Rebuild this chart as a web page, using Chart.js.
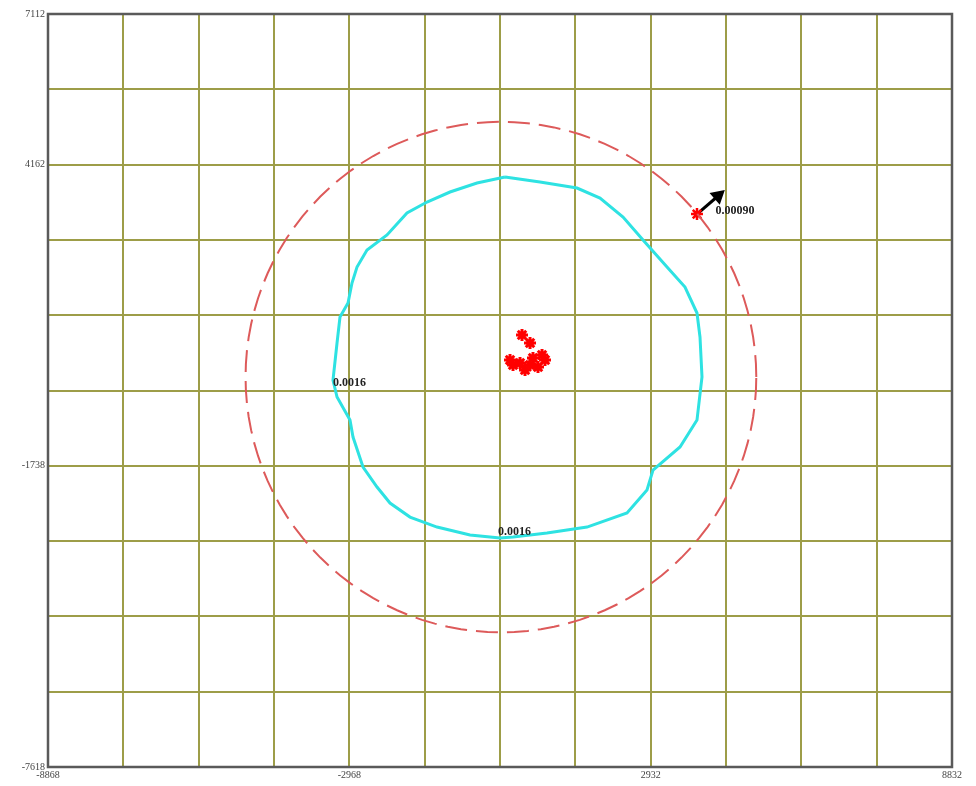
<!DOCTYPE html>
<html>
<head>
<meta charset="utf-8">
<script src="https://cdn.jsdelivr.net/npm/chart.js@4/dist/chart.umd.min.js"></script>
<style>
  body { margin: 0; background: #fff; }
  #wrap { width: 976px; height: 786px; position: relative; }
</style>
</head>
<body>
<div id="wrap"><canvas id="contourChart"></canvas></div>
<script>
// axes
const xMin = -8868;
const xMax = 8832;
const yMin = -7638;
const yMax = 7112;
const gridStep = 1475;

// tick labels
const xTickValues = [-8868, -2968, 2932, 8832];
const xTickLabels = ['-8868', '-2968', '2932', '8832'];
const yTickValues = [7112, 4162, -1738, -7638];
const yTickLabels = ['7112', '4162', '-1738', '-7618'];

// 0.0016 contour (clockwise from top)
const contourX = [80, 765, 1490, 1940, 2391, 2782, 3252, 3604, 3839, 3898, 3937, 3839, 3507, 2978, 2860, 2469, 1686, 902, 237, -18, -605, -1251, -1780, -2172, -2426, -2700, -2896, -2955, -3209, -3288, -3209, -3151, -2994, -2916, -2818, -2622, -2230, -1839, -1447, -997, -468, 80];
const contourY = [3919, 3821, 3703, 3507, 3135, 2685, 2156, 1764, 1255, 784, 1, -842, -1370, -1821, -2213, -2663, -2938, -3055, -3134, -3153, -3094, -2938, -2742, -2468, -2154, -1762, -1175, -842, -391, -58, 667, 1176, 1450, 1842, 2156, 2489, 2783, 3214, 3429, 3625, 3801, 3919];

// red star cluster
const starX = [413, 570, 628, 805, 863, 178, 374, 570, 472, 726, 237];
const starY = [824, 667, 373, 432, 334, 334, 275, 236, 138, 197, 236];

// single point + arrow
const pointX = [3839];
const pointY = [3194];
const arrowX = [3839, 4251];
const arrowY = [3194, 3547];

// dashed reference circle
const circleCenter = [0, 0];
const circleRadius = 5000;

// text labels
const labelText = ['0.0016', '0.0016', '0.00090'];
const labelX = [-3288, -57, 4200];
const labelY = [-117, -3036, 3253];

const toPoints = (xs, ys) => xs.map((x, i) => ({ x, y: ys[i] }));

const circlePoints = [];
for (let a = 0; a <= 360; a += 3) {
  const r = (a * Math.PI) / 180;
  circlePoints.push({
    x: circleCenter[0] + circleRadius * Math.cos(r),
    y: circleCenter[1] + circleRadius * Math.sin(r),
  });
}

const gridValues = (min, max) => {
  const vals = [];
  for (let v = min; v <= max + 1; v += gridStep) vals.push(v);
  return vals;
};

// frame + text
const framePlugin = {
  id: 'frame',
  beforeDatasetsDraw(chart) {
    const { ctx, chartArea: a } = chart;
    ctx.save();
    ctx.strokeStyle = '#5a5a5a';
    ctx.lineWidth = 2.5;
    ctx.strokeRect(a.left, a.top, a.right - a.left, a.bottom - a.top);
    ctx.restore();
  },
  afterDatasetsDraw(chart) {
    const { ctx } = chart;
    const xs = chart.scales.x;
    const ys = chart.scales.y;
    ctx.save();
    ctx.fillStyle = '#222';
    ctx.font = 'bold 12px "Liberation Serif"';
    ctx.textBaseline = 'middle';
    ctx.textAlign = 'left';
    labelText.forEach((t, i) => {
      ctx.fillText(t, xs.getPixelForValue(labelX[i]), ys.getPixelForValue(labelY[i]));
    });
    ctx.restore();
  },
};

const tickFont = { family: '"Liberation Serif"', size: 10 };

new Chart(document.getElementById('contourChart'), {
  type: 'scatter',
  data: {
    datasets: [
      {
        data: circlePoints,
        showLine: true,
        borderColor: '#dd5a5a',
        borderWidth: 2,
        borderDash: [22, 9],
        pointRadius: 0,
      },
      {
        data: toPoints(contourX, contourY),
        showLine: true,
        borderColor: '#2ee2e2',
        borderWidth: 3,
        pointRadius: 0,
        tension: 0,
      },
      {
        data: toPoints(starX, starY),
        pointStyle: 'star',
        pointRadius: 6,
        borderColor: '#ff0000',
        backgroundColor: '#ff0000',
        borderWidth: 3,
      },
      {
        data: toPoints(pointX, pointY),
        pointStyle: 'star',
        pointRadius: 6,
        borderColor: '#ff0000',
        borderWidth: 2.5,
      },
      {
        data: toPoints(arrowX, arrowY),
        showLine: true,
        borderColor: '#000',
        backgroundColor: '#000',
        borderWidth: 3,
        pointStyle: 'triangle',
        pointRadius: [0, 6],
        rotation: 49,
      },
    ],
  },
  options: {
    responsive: true,
    maintainAspectRatio: false,
    animation: false,
    layout: { padding: { top: 14, right: 24, left: 0, bottom: 0 } },
    plugins: { legend: { display: false }, tooltip: { enabled: false } },
    scales: {
      x: {
        type: 'linear',
        min: xMin,
        max: xMax,
        afterBuildTicks: (scale) => {
          scale.ticks = gridValues(xMin, xMax).map((v) => ({ value: v }));
        },
        afterFit: (scale) => {
          scale.height = 19;
        },
        ticks: {
          autoSkip: false,
          maxRotation: 0,
          padding: 2,
          color: '#444',
          font: tickFont,
          callback: (v) => {
            const i = xTickValues.indexOf(Math.round(v));
            return i >= 0 ? xTickLabels[i] : '';
          },
        },
        grid: { color: '#9d9d48', lineWidth: 2, drawTicks: false },
        border: { display: false },
      },
      y: {
        type: 'linear',
        min: yMin,
        max: yMax,
        afterBuildTicks: (scale) => {
          scale.ticks = gridValues(yMin, yMax).map((v) => ({ value: v }));
        },
        afterFit: (scale) => {
          scale.width = 48;
        },
        ticks: {
          autoSkip: false,
          padding: 3,
          color: '#444',
          font: tickFont,
          callback: (v) => {
            const i = yTickValues.indexOf(Math.round(v));
            return i >= 0 ? yTickLabels[i] : '';
          },
        },
        grid: { color: '#9d9d48', lineWidth: 2, drawTicks: false },
        border: { display: false },
      },
    },
  },
  plugins: [framePlugin],
});
</script>
</body>
</html>
